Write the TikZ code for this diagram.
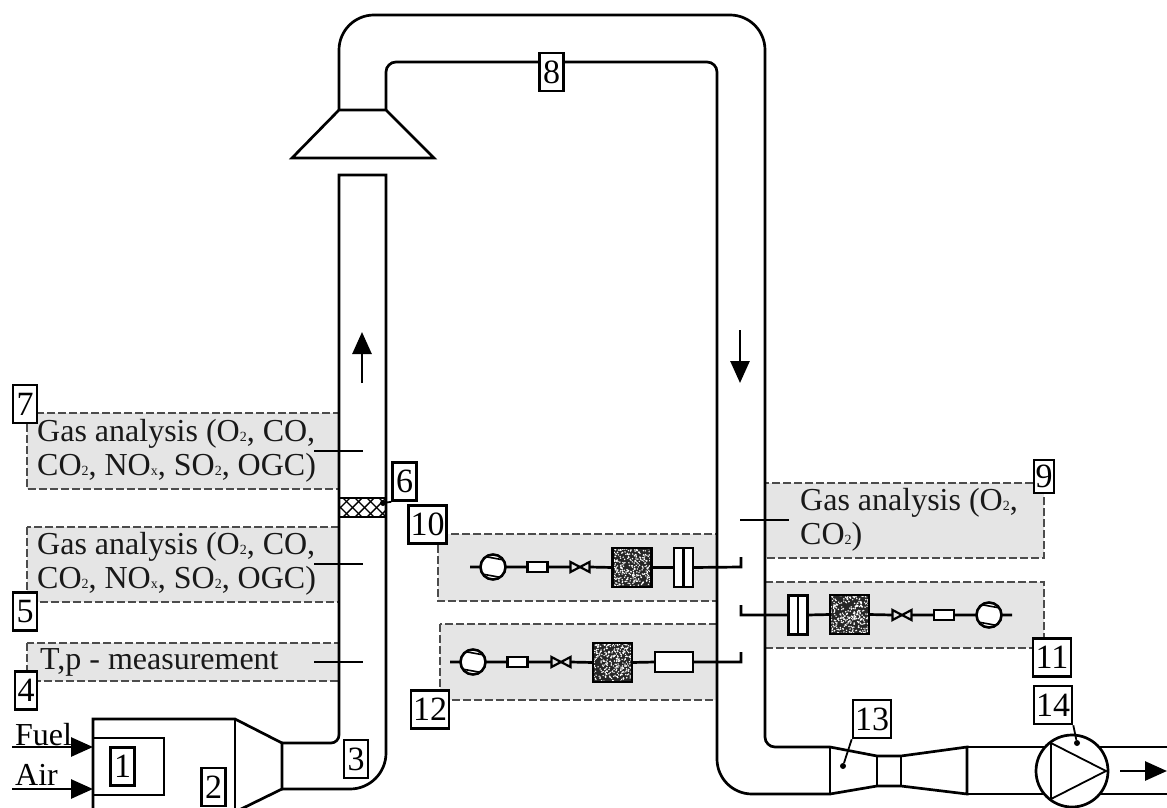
\documentclass[tikz,border=0pt]{standalone}
\usepackage{fontspec}
\setmainfont{Liberation Serif}
\usetikzlibrary{shapes.geometric,arrows.meta}
\newcommand{\sbs}[1]{{\fontsize{14}{14}\selectfont #1}}
\newcommand{\vlvtie}[1]{\draw[wall,line width=2.2pt,line join=miter] (#1.north west)--(#1.south east)--(#1.north east)--(#1.south west)--cycle;}
\tikzset{
 wall/.style={line width=2.7pt,black},
 thinwall/.style={line width=1.8pt,black},
 zone/.style={fill=black!10,draw=black!70,line width=1.3pt,dash pattern=on 8pt off 3pt},
 lab/.style={draw=black,line width=2.6pt,fill=white,inner sep=0pt,minimum height=38pt,minimum width=24pt,font=\fontsize{34}{34}\selectfont},
 wide/.style={lab,minimum width=38pt},
 txt/.style={font=\fontsize{32}{34}\selectfont,align=left,inner sep=0pt,anchor=west,text=black!90},
 pumpsym/.style={draw=black,line width=2.6pt,fill=white,circle,minimum size=25pt,inner sep=0pt,outer sep=0pt,
   path picture={\draw[line width=1.6pt] ([xshift=-11pt,yshift=11pt]path picture bounding box.center)--([xshift=11pt,yshift=7pt]path picture bounding box.center)
   ([xshift=-11pt,yshift=-7pt]path picture bounding box.center)--([xshift=11pt,yshift=-11pt]path picture bounding box.center);}},
 smallbox/.style={draw=black,line width=2.4pt,fill=white,minimum width=20pt,minimum height=10pt,inner sep=0pt,outer sep=0pt},
 bigbox/.style={draw=black,line width=2.6pt,fill=white,minimum width=38pt,minimum height=20pt,inner sep=0pt,outer sep=0pt},
 valvesym/.style={minimum width=19pt,minimum height=10pt,inner sep=0pt,outer sep=0pt},
 filtersym/.style={draw=black,line width=2.6pt,fill=black!85,minimum width=39pt,minimum height=39pt,inner sep=0pt,outer sep=0pt,
   path picture={\foreach \i in {1,...,300}{\pgfmathsetmacro{\a}{rnd*38-19}\pgfmathsetmacro{\b}{rnd*38-19}
     \fill[white] ([xshift=\a pt,yshift=\b pt]path picture bounding box.center) circle (0.8pt);}}},
 coolersym/.style={draw=black,line width=2.6pt,fill=white,minimum width=19pt,minimum height=39pt,inner sep=0pt,outer sep=0pt,
   path picture={\draw[line width=2.6pt] (path picture bounding box.north)--(path picture bounding box.south);}},
 dotsym/.style={circle,fill=black,inner sep=0pt,minimum size=6pt},
 bigarrow/.style={wall,-{Triangle[length=22pt,width=19pt]}},
}
\begin{document}
\begin{tikzpicture}[x=1pt,y=-1pt]
\useasboundingbox (0,0) rectangle (1167,808);
\pgfmathsetseed{42}
% shaded zones
\fill[white] (0,0) rectangle (1167,808);
\draw[zone] (27,413) rectangle (339,489);
\draw[zone] (27,527) rectangle (339,602);
\draw[zone] (27,643) rectangle (339,681);
\draw[zone] (765,483) rectangle (1044,558);
\draw[zone] (765,582) rectangle (1044,648);
\draw[zone] (438,534) rectangle (717,601);
\draw[zone] (440,624) rectangle (717,700);
% hood and stack
\draw[wall,line join=miter] (339,110)--(386,110)--(434,158)--(292,158)--cycle;
\draw[wall] (339,735) -- (339,175) -- (386,175) -- (386,753) arc[start angle=0,end angle=90,radius=36] -- (282,789);
\draw[wall] (339,735) arc[start angle=0,end angle=90,radius=8] -- (282,743);
% mesh
\begin{scope}
\clip (339,498) rectangle (386,517);
\foreach \k in {-20,-8,...,60}{
  \draw[line width=1.4pt] (\k+339,517) -- ++(19,-19);
  \draw[line width=1.4pt] (\k+339,498) -- ++(19,19);
}
\end{scope}
\draw[wall] (339,498) rectangle (386,517);
% duct
\draw[wall] (339,110) -- (339,50) arc[start angle=180,end angle=270,radius=35] -- (730,15) arc[start angle=270,end angle=360,radius=35] -- (765,737) arc[start angle=180,end angle=90,radius=10] -- (830,747);
\draw[wall] (386,110) -- (386,72) arc[start angle=180,end angle=270,radius=10] -- (707,62) arc[start angle=270,end angle=360,radius=10] -- (717,759) arc[start angle=180,end angle=90,radius=35] -- (830,794);
% burner
\draw[wall,line join=miter] (93,808) -- (93,719) -- (235,719) -- (282,743) -- (282,789) -- (235,812);
\draw[wall] (235,719) -- (235,808);
\draw[wall] (93,738) rectangle (164,795);
\coordinate (fuelS) at (12,747); \coordinate (fuelE) at (93,747);
\coordinate (airS) at (12,789); \coordinate (airE) at (93,789);
\draw[bigarrow] (fuelS) -- (fuelE);
\draw[bigarrow] (airS) -- (airE);
\node[anchor=base west,inner sep=0pt,font=\fontsize{32}{32}\selectfont] (fuel) at (15,745) {Fuel};
\node[anchor=base west,inner sep=0pt,font=\fontsize{32}{32}\selectfont] (air) at (15,785) {Air};
% venturi
\draw[wall,line join=miter] (830,747) -- (830,794);
\draw[wall,line join=miter] (830,747) -- (877,756) -- (901,756) -- (967,747) -- (967,794) -- (901,786) -- (877,786) -- (830,794);
\draw[wall] (877,756) -- (877,786) (901,756) -- (901,786);
\draw[wall] (967,747) -- (1167,747) (967,794) -- (1167,794);
% fan
\node[circle,draw=black,line width=2.7pt,fill=white,minimum size=72pt,inner sep=0pt] (fan) at (1072,771) {};
\draw[thinwall,line join=miter] (1051,743) -- (1106,771) -- (1051,799) -- cycle;
\coordinate (outS) at (1120,771); \coordinate (outE) at (1167,771);
\draw[bigarrow] (outS) -- (outE);
% flow arrows
\coordinate (upS) at (362,383); \coordinate (upE) at (362,332);
\coordinate (dnS) at (740,330); \coordinate (dnE) at (740,383);
\draw[bigarrow] (upS) -- (upE);
\draw[bigarrow] (dnS) -- (dnE);
% probes
\coordinate (p7a) at (314,451); \coordinate (p7b) at (363,451);
\coordinate (p5a) at (314,564); \coordinate (p5b) at (363,564);
\coordinate (p4a) at (314,662); \coordinate (p4b) at (363,662);
\coordinate (p9a) at (740,520); \coordinate (p9b) at (789,520);
\draw[wall] (p7a)--(p7b) (p5a)--(p5b) (p4a)--(p4b) (p9a)--(p9b);
% texts
\node[txt] (t7) at (37,451) {Gas analysis (O\sbs{2}, CO,\\CO\sbs{2}, NO\sbs{x}, SO\sbs{2}, OGC)};
\node[txt] (t5) at (37,564) {Gas analysis (O\sbs{2}, CO,\\CO\sbs{2}, NO\sbs{x}, SO\sbs{2}, OGC)};
\node[txt] (t4) at (40,662) {T,p - measurement};
\node[txt] (t9) at (800,520) {Gas analysis (O\sbs{2},\\CO\sbs{2})};
% sampling line 10
\node[pumpsym] (a1) at (493,567) {};
\node[smallbox] (a2) at (537.5,567) {};
\node[valvesym] (a3) at (580,567) {};\vlvtie{a3}
\node[filtersym] (a4) at (632,567.5) {};
\node[coolersym] (a5) at (683.5,567.5) {};
\coordinate (a0) at (470,567); \coordinate (a6) at (741,567); \coordinate (a7) at (741,557);
\draw[wall] (a0)--(a1.west) (a1.east)--(a2.west) (a2.east)--(a3.west) (a3.east)--(a4.west) (a4.east)--(a5.west) (a5.east)--(a6)--(a7);
% sampling line 11
\node[coolersym] (b1) at (798,615) {};
\node[filtersym] (b2) at (849.5,614.5) {};
\node[valvesym] (b3) at (902,615) {};\vlvtie{b3}
\node[smallbox] (b4) at (944,615) {};
\node[pumpsym] (b5) at (989,615) {};
\coordinate (b0) at (741,605); \coordinate (b00) at (741,615); \coordinate (b6) at (1012,615);
\draw[wall] (b0)--(b00)--(b1.west) (b1.east)--(b2.west) (b2.east)--(b3.west) (b3.east)--(b4.west) (b4.east)--(b5.west) (b5.east)--(b6);
% sampling line 12
\node[pumpsym] (c1) at (473,662) {};
\node[smallbox] (c2) at (517.5,662) {};
\node[valvesym] (c3) at (561,662) {};\vlvtie{c3}
\node[filtersym] (c4) at (612.5,662.5) {};
\node[bigbox] (c5) at (674,662) {};
\coordinate (c0) at (450,662); \coordinate (c6) at (741,662); \coordinate (c7) at (741,652);
\draw[wall] (c0)--(c1.west) (c1.east)--(c2.west) (c2.east)--(c3.west) (c3.east)--(c4.west) (c4.east)--(c5.west) (c5.east)--(c6)--(c7);
% number labels
\node[lab] (n1) at (122.5,766.5) {1};
\node[lab] (n2) at (213.5,787) {2};
\node[lab] (n3) at (356,759) {3};
\node[lab,minimum width=22pt] (n4) at (26,690.5) {4};
\node[lab] (n5) at (25,611.5) {5};
\node[lab] (n6) at (404.5,481.5) {6};
\node[lab] (n7) at (25,404) {7};
\node[lab] (n8) at (551.5,72) {8};
\node[lab,minimum width=20pt,minimum height=33pt] (n9) at (1044,476.5) {9};
\node[wide] (n10) at (427.5,524.5) {10};
\node[wide] (n11) at (1052,657.5) {11};
\node[wide] (n12) at (430,709.5) {12};
\node[wide] (n13) at (872,719) {13};
\node[wide] (n14) at (1053,705) {14};
% leaders
\node[dotsym] (d6) at (383,503) {};
\node[dotsym] (d13) at (843,766) {};
\node[dotsym] (d14) at (1077,743) {};
\draw[thinwall] (n6.south west) -- (d6);
\draw[thinwall] (n13.south west) -- (d13);
\draw[thinwall] (n14.south east) -- (d14);
\end{tikzpicture}
\end{document}
